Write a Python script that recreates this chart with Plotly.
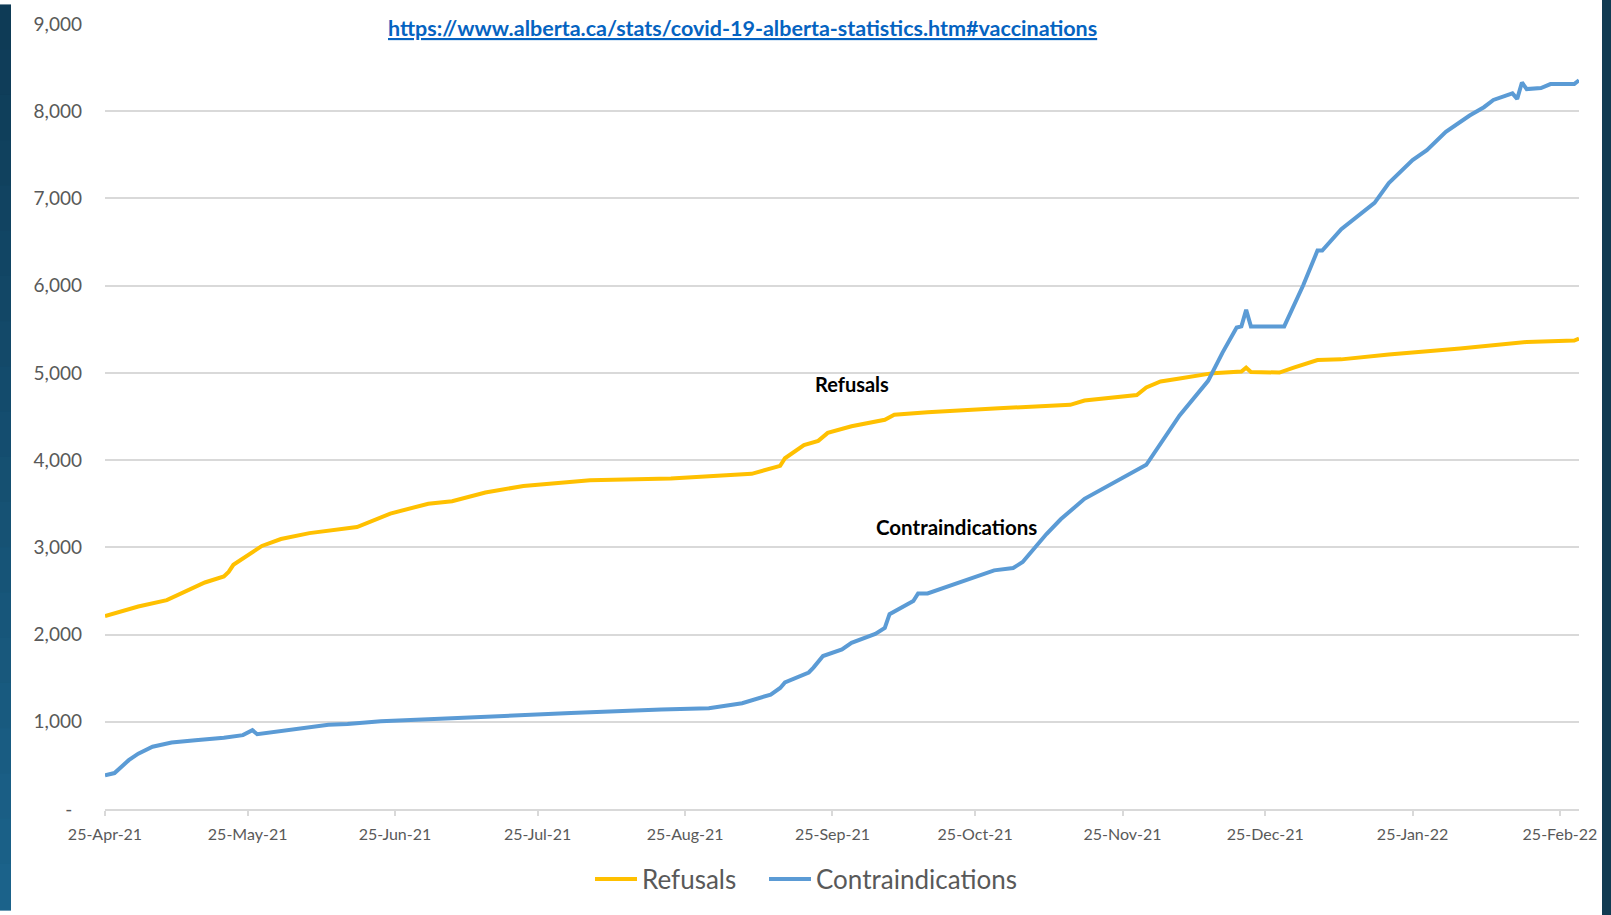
import plotly.graph_objects as go

# ---- data ----
ref_dates = ["2021-04-25","2021-05-02","2021-05-08","2021-05-12","2021-05-16","2021-05-20","2021-05-21","2021-05-22",
             "2021-05-28","2021-06-01","2021-06-07","2021-06-17","2021-06-24","2021-07-02","2021-07-07","2021-07-14",
             "2021-07-22","2021-08-05","2021-08-22","2021-09-08","2021-09-14","2021-09-15","2021-09-19","2021-09-22",
             "2021-09-24","2021-09-29","2021-10-06","2021-10-08","2021-10-15","2021-10-30","2021-11-08","2021-11-14",
             "2021-11-17","2021-11-28","2021-11-30","2021-12-03","2021-12-07","2021-12-14","2021-12-20","2021-12-21",
             "2021-12-22","2021-12-28","2021-12-31","2022-01-05","2022-01-10","2022-01-20","2022-02-04","2022-02-15",
             "2022-02-18","2022-02-28","2022-03-01"]
refusals = [2212,2322,2395,2496,2597,2666,2719,2800,3016,3095,3163,3232,3387,3500,3528,3629,3703,3768,3790,3843,
            3934,4021,4172,4221,4312,4388,4463,4520,4550,4595,4620,4634,4683,4747,4834,4902,4936,4997,5015,5060,
            5011,5004,5060,5147,5155,5212,5280,5332,5355,5371,5393]

con_dates = ["2021-04-25","2021-04-27","2021-04-30","2021-05-02","2021-05-05","2021-05-09","2021-05-14","2021-05-20",
             "2021-05-24","2021-05-26","2021-05-27","2021-06-04","2021-06-11","2021-06-15","2021-06-22","2021-07-02",
             "2021-07-17","2021-08-01","2021-08-20","2021-08-30","2021-09-06","2021-09-12","2021-09-14","2021-09-15",
             "2021-09-20","2021-09-21","2021-09-23","2021-09-27","2021-09-29","2021-10-04","2021-10-06","2021-10-07",
             "2021-10-12","2021-10-13","2021-10-15","2021-10-23","2021-10-29","2021-11-02","2021-11-04","2021-11-09",
             "2021-11-12","2021-11-17","2021-11-24","2021-11-30","2021-12-07","2021-12-13","2021-12-16","2021-12-19",
             "2021-12-20","2021-12-21","2021-12-22","2021-12-29","2022-01-02","2022-01-05","2022-01-06","2022-01-10",
             "2022-01-17","2022-01-20","2022-01-25","2022-01-28","2022-02-01","2022-02-06","2022-02-09","2022-02-11",
             "2022-02-15","2022-02-16","2022-02-17","2022-02-18","2022-02-21","2022-02-23","2022-02-28","2022-03-01"]
contraindications = [385,412,560,634,714,763,787,816,847,904,858,910,965,975,1006,1030,1068,1100,1141,1156,
                     1213,1312,1387,1451,1565,1621,1754,1829,1905,2007,2075,2234,2385,2472,2472,2623,2736,2763,2831,3152,
                     3322,3556,3768,3946,4512,4909,5230,5520,5533,5722,5533,5533,6005,6402,6402,6647,6950,7177,7441,7554,
                     7763,7951,8046,8129,8205,8141,8330,8254,8265,8311,8311,8356]

x_tick_dates = ["2021-04-25","2021-05-25","2021-06-25","2021-07-25","2021-08-25","2021-09-25",
                "2021-10-25","2021-11-25","2021-12-25","2022-01-25","2022-02-25"]
y_tick_vals = [0,1000,2000,3000,4000,5000,6000,7000,8000,9000]
y_tick_text = ["-\u00a0\u00a0","1,000","2,000","3,000","4,000","5,000","6,000","7,000","8,000","9,000"]

url_text = "https://www.alberta.ca/stats/covid-19-alberta-statistics.htm#vaccinations"

FONT = "Lato"
GREY = "#595959"
GRID = "#d9d9d9"

W, H = 1611, 915
ML, MR, MT, MB = 105, 32, 19, 102
PW, PH = W - ML - MR, H - MT - MB

fig = go.Figure()
fig.add_trace(go.Scatter(x=ref_dates, y=refusals, mode="lines", name="Refusals",
                         line=dict(color="#FFC000", width=4), legend="legend"))
fig.add_trace(go.Scatter(x=con_dates, y=contraindications, mode="lines", name="Contraindications",
                         line=dict(color="#5B9BD5", width=4), legend="legend2"))

# dark slide-edge bars (decoration), gradient on the left
shapes = []
n = 20
c0 = (14, 59, 86)
c1 = (27, 98, 138)
top = 1 + MT / PH
span = H / PH
for i in range(n):
    t = i / (n - 1)
    col = "rgb(%d,%d,%d)" % tuple(round(a + (b - a) * t) for a, b in zip(c0, c1))
    shapes.append(dict(type="rect", xref="paper", yref="paper",
                       x0=-ML / PW, x1=(11 - ML) / PW,
                       y0=top - span * (i + 1) / n - 0.001, y1=top - span * i / n + 0.001,
                       fillcolor=col, line=dict(width=0), layer="above"))
shapes.append(dict(type="rect", xref="paper", yref="paper",
                   x0=(1602 - ML) / PW, x1=(W + 2 - ML) / PW, y0=-MB / PH - 0.01, y1=top + 0.01,
                   fillcolor="#113b52", line=dict(width=0), layer="above"))

legend_common = dict(orientation="h", yanchor="middle", y=-(884 - (H - MB)) / PH, xanchor="left",
                     font=dict(family=FONT, size=26, color=GREY), itemwidth=42,
                     bgcolor="rgba(0,0,0,0)")

fig.update_layout(
    width=W, height=H,
    margin=dict(l=ML, r=MR, t=MT, b=MB),
    paper_bgcolor="white", plot_bgcolor="white",
    font=dict(family=FONT, color=GREY),
    showlegend=True,
    legend=dict(legend_common, x=(590 - ML) / PW),
    legend2=dict(legend_common, x=(764 - ML) / PW),
    shapes=shapes,
    xaxis=dict(type="date", range=["2021-04-25", "2022-03-01"],
               tickvals=x_tick_dates, tickformat="%d-%b-%y",
               tickfont=dict(family=FONT, size=16, color=GREY),
               showgrid=False, showline=True, linecolor=GRID, linewidth=1.5,
               ticks="outside", ticklen=5, tickcolor=GRID, tickwidth=1.5,
               ticklabelstandoff=5, zeroline=False),
    yaxis=dict(range=[0, 9000], tickvals=y_tick_vals, ticktext=y_tick_text,
               tickfont=dict(family=FONT, size=19, color=GREY),
               showgrid=True, gridcolor=GRID, gridwidth=1.5,
               showline=False, zeroline=False, ticks="", ticklabelstandoff=22),
    annotations=[
        dict(text="<b>" + url_text + "</b>", xref="paper", yref="paper",
             x=(742 - ML) / PW, y=1 - (23 - MT) / PH, xanchor="center", yanchor="middle",
             showarrow=False, font=dict(family=FONT, size=21.5, color="#0563C1", lineposition="under")),
        dict(text="<b>Refusals</b>", x="2021-09-29", y=4875, xref="x", yref="y",
             showarrow=False, xanchor="center", yanchor="middle",
             font=dict(family=FONT, size=20, color="black")),
        dict(text="<b>Contraindications</b>", x="2021-10-21", y=3231, xref="x", yref="y",
             showarrow=False, xanchor="center", yanchor="middle",
             font=dict(family=FONT, size=20.5, color="black")),
    ],
)

fig.write_html("out.html", config={"displayModeBar": False},
               post_script="document.body.style.margin='0';document.body.style.overflow='hidden';")
